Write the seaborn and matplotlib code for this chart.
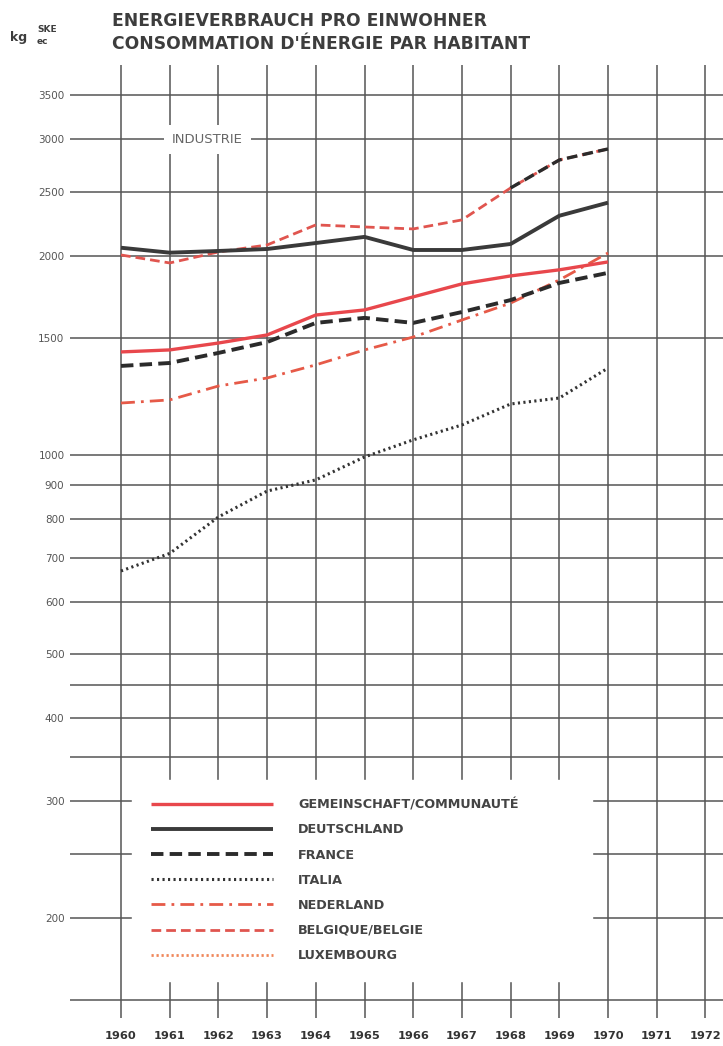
import numpy as np
import pandas as pd
import matplotlib
matplotlib.use("Agg")
import matplotlib.pyplot as plt
import matplotlib.ticker as mticker
from matplotlib.lines import Line2D
import seaborn as sns

# ---------------- data ----------------
years = list(range(1960, 1971))
gemeinschaft = [1431, 1441, 1476, 1518, 1627, 1656, 1733, 1813, 1864, 1904, 1957]
deutschland = [2056, 2021, 2033, 2047, 2090, 2135, 2040, 2040, 2083, 2298, 2405]
france = [1363, 1377, 1426, 1481, 1583, 1611, 1583, 1644, 1714, 1819, 1884]
italia = [668, 710, 806, 882, 917, 993, 1054, 1110, 1194, 1219, 1353]
nederland = [1198, 1211, 1271, 1307, 1368, 1441, 1507, 1599, 1696, 1838, 2019]
belgique = [2005, 1950, 2026, 2076, 2226, 2210, 2195, 2265, 2531, 2790, 2899]
belgique_dark_from = 1968  # printed in black from this year on

series_names = ["GEMEINSCHAFT/COMMUNAUTÉ", "DEUTSCHLAND", "FRANCE", "ITALIA",
                "NEDERLAND", "BELGIQUE/BELGIE", "LUXEMBOURG"]

x_ticks = list(range(1960, 1973))
y_grid = [150, 200, 250, 300, 350, 400, 450, 500, 600, 700, 800, 900,
          1000, 1500, 2000, 2500, 3000, 3500]
y_labelled = [200, 300, 400, 500, 600, 700, 800, 900, 1000, 1500, 2000,
              2500, 3000, 3500]

title1 = "ENERGIEVERBRAUCH PRO EINWOHNER"
title2 = "CONSOMMATION D'ÉNERGIE PAR HABITANT"
panel_label = "INDUSTRIE"

# ---------------- style ----------------
sns.set_theme(style="white")
plt.rcParams["font.family"] = ["DejaVu Sans"]

W, H = 723, 1046
fig = plt.figure(figsize=(W / 100, H / 100), dpi=100)
fig.patch.set_facecolor("white")

ax_left, ax_right, ax_top, ax_bottom = 70, 723, 65, 1018
ax = fig.add_axes([ax_left / W, 1 - ax_bottom / H,
                   (ax_right - ax_left) / W, (ax_bottom - ax_top) / H])
ax.set_facecolor("white")
ax.set_yscale("log")
ax.set_xlim(1958.953, 1972.361)
ax.set_ylim(141.1, 3882)

for s in ax.spines.values():
    s.set_visible(False)

grid_col = "#555555"
ax.yaxis.set_major_locator(mticker.FixedLocator(y_grid))
ax.yaxis.set_minor_locator(mticker.NullLocator())
ax.yaxis.set_major_formatter(mticker.FixedFormatter(
    [str(v) if v in y_labelled else "" for v in y_grid]))
ax.xaxis.set_major_locator(mticker.FixedLocator(x_ticks))
ax.xaxis.set_major_formatter(mticker.FixedFormatter([str(v) for v in x_ticks]))
ax.grid(True, which="major", color=grid_col, lw=1.1, zorder=0)
ax.set_axisbelow(True)
ax.tick_params(axis="y", length=0, pad=4, labelsize=7.5, labelcolor="#555555")
ax.tick_params(axis="x", length=0, pad=9.5, labelsize=8.2, labelcolor="#333333")
for t in ax.get_xticklabels():
    t.set_fontweight("bold")

styles = {
    "GEMEINSCHAFT/COMMUNAUTÉ": dict(color="#e8474c", lw=2.4, linestyle="-"),
    "DEUTSCHLAND": dict(color="#3a3a3a", lw=2.8, linestyle="-"),
    "FRANCE": dict(color="#2b2b2b", lw=2.8, linestyle=(0, (3.2, 1.6))),
    "ITALIA": dict(color="#333333", lw=2.2, linestyle=(0, (0.7, 1.1))),
    "NEDERLAND": dict(color="#e65a48", lw=2.0, linestyle=(0, (5, 2.2, 1, 2.2))),
    "BELGIQUE/BELGIE": dict(color="#e0554f", lw=2.0, linestyle=(0, (3.5, 1.8))),
    "LUXEMBOURG": dict(color="#f0875a", lw=2.0, linestyle=(0, (0.8, 1.0))),
}
data = {
    "GEMEINSCHAFT/COMMUNAUTÉ": gemeinschaft,
    "DEUTSCHLAND": deutschland,
    "FRANCE": france,
    "ITALIA": italia,
    "NEDERLAND": nederland,
    "BELGIQUE/BELGIE": belgique,
}

for name in ["ITALIA", "NEDERLAND", "FRANCE", "GEMEINSCHAFT/COMMUNAUTÉ",
             "BELGIQUE/BELGIE", "DEUTSCHLAND"]:
    df = pd.DataFrame({"year": years, "value": data[name]})
    sns.lineplot(data=df, x="year", y="value", ax=ax, zorder=3,
                 solid_capstyle="butt", dash_capstyle="butt", **styles[name])

# final segment of Belgique printed dark
dfb = pd.DataFrame({"year": years, "value": belgique})
dfb = dfb[dfb["year"] >= belgique_dark_from]
sns.lineplot(data=dfb, x="year", y="value", ax=ax, zorder=4, color="#2b2b2b",
             lw=2.4, linestyle=(0, (3.2, 1.6)), dash_capstyle="butt")

ax.set_xlabel("")
ax.set_ylabel("")

# legend (white panel interrupting the grid)
handles = [Line2D([], [], solid_capstyle="butt", dash_capstyle="butt",
                  **styles[n]) for n in series_names]
leg_fs = 9.2
leg = ax.legend(handles, series_names, loc="upper left",
                bbox_to_anchor=(0.095, 0.045, 0.704, 0.205), mode="expand",
                frameon=True, fancybox=False, facecolor="white",
                edgecolor="white", framealpha=1.0, fontsize=leg_fs,
                handlelength=9.6, handletextpad=1.95, labelspacing=0.95,
                borderpad=1.45, borderaxespad=0)
leg.set_zorder(5)
for t in leg.get_texts():
    t.set_color("#444444")
    t.set_fontweight("bold")

# panel label
ax.text(1961.77, 3000, panel_label, ha="center", va="center", fontsize=9.5,
        color="#666666", zorder=5,
        bbox=dict(boxstyle="square,pad=0.6", fc="white", ec="none"))

# titles
fig.text(112 / W, 1 - 21 / H, title1, ha="left", va="center", fontsize=12.3,
         fontweight="bold", color="#3d3d3d")
fig.text(112 / W, 1 - 44 / H, title2, ha="left", va="center", fontsize=12.3,
         fontweight="bold", color="#3d3d3d")
fig.text(10 / W, 1 - 37 / H, "kg", ha="left", va="center", fontsize=9,
         fontweight="bold", color="#3d3d3d")
fig.text(37 / W, 1 - 29 / H, "SKE", ha="left", va="center", fontsize=6.5,
         fontweight="bold", color="#3d3d3d")
fig.text(37 / W, 1 - 41 / H, "ec", ha="left", va="center", fontsize=6.5,
         fontweight="bold", color="#3d3d3d")

fig.savefig("out.png", dpi=100, facecolor="white")
